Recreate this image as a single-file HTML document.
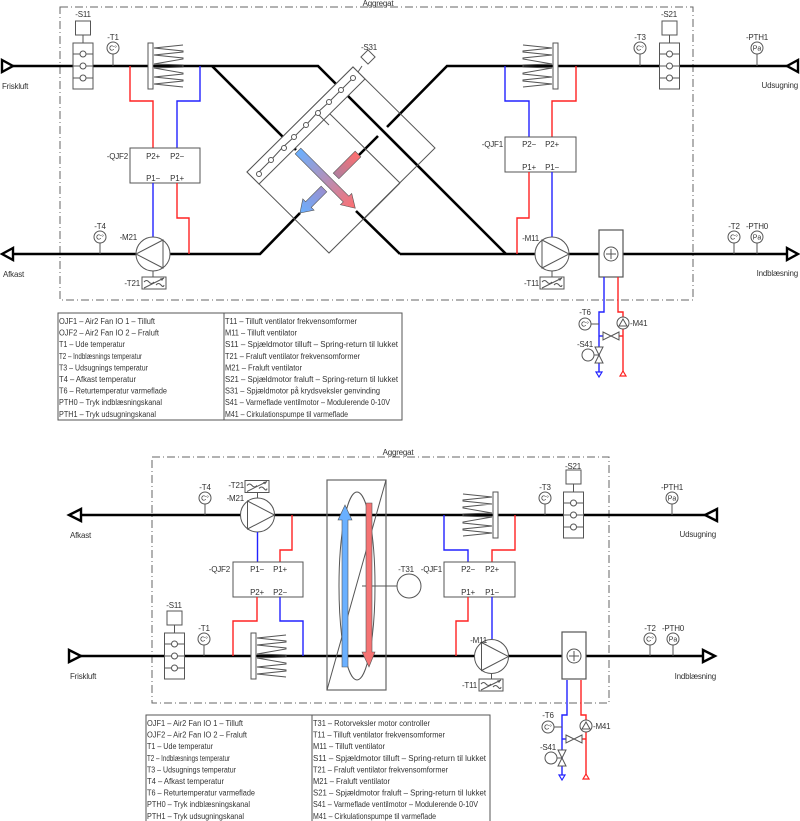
<!DOCTYPE html>
<html><head><meta charset="utf-8"><style>
html,body{margin:0;padding:0;background:#fff;}
svg{display:block;font-family:"Liberation Sans",sans-serif;}
.t{font-size:8px;fill:#333;letter-spacing:-0.2px;}
.lg{font-size:8px;fill:#333;}
.thin{stroke:#555;stroke-width:1;fill:none;}
.duct{stroke:#000;stroke-width:2.6;fill:none;}
.r{stroke:#f22;stroke-width:1.4;fill:none;}
.b{stroke:#22f;stroke-width:1.4;fill:none;}
.box{stroke:#555;stroke-width:1;fill:#fff;}
.dd{stroke:#666;stroke-width:1;fill:none;stroke-dasharray:8,3,1,3;}
</style></head><body>
<svg width="800" height="821" viewBox="0 0 800 821" xmlns="http://www.w3.org/2000/svg">
<defs>
<g id="ts"><circle r="6" class="box"/><text x="0" y="2.6" text-anchor="middle" style="font-size:7px;fill:#333">C°</text></g>
<g id="ps"><circle r="6" class="box"/><text x="0" y="2.6" text-anchor="middle" style="font-size:7px;fill:#333">Pa</text></g>
<g id="dmp">
<line x1="0" y1="-23" x2="0" y2="-31" class="thin"/>
<rect x="-7.5" y="-45" width="15" height="14" class="box"/>
<rect x="-10" y="-23" width="20" height="46" class="box"/>
<line x1="-10" y1="-12" x2="10" y2="-12" class="thin"/><line x1="-10" y1="0" x2="10" y2="0" class="thin"/><line x1="-10" y1="12" x2="10" y2="12" class="thin"/>
<circle cx="0" cy="-12" r="3" class="box"/><circle cx="0" cy="0" r="3" class="box"/><circle cx="0" cy="12" r="3" class="box"/>
</g>
<g id="comb">
<polyline class="thin" points="35,-21 6,-18 35,-15 35,-14 6,-11 35,-8 35,-7 6,-2 35,-1 35,1 6,2 35,7 35,8 6,11 35,14 35,15 6,18 35,21"/>
<rect x="0" y="-23" width="5" height="46" class="box"/>
</g>
<g id="fanR"><circle r="17" class="box"/><polygon points="-10,-14 -10,14 17,0" class="thin"/></g>
<g id="fc"><rect x="-12" y="-6" width="24" height="12" class="box"/>
<line x1="-10" y1="5" x2="10" y2="-5" class="thin"/><polygon points="10,-5 6,-4.5 8,-2" fill="#555"/>
<path d="M-10,-1 q2.5,-3 5,0 t5,0" class="thin"/><path d="M2,2 q2.5,-3 5,0 t3,0" class="thin"/></g>
<g id="heat"><rect x="-12" y="-24" width="24" height="47" class="box" style="stroke-width:1.2"/>
<circle r="7" class="thin"/><line x1="-5" y1="0" x2="5" y2="0" class="thin"/><line x1="0" y1="-5" x2="0" y2="5" class="thin"/></g>
<g id="water">
<path class="b" d="M-7,0 V35 H-12 V96"/>
<polygon points="-15,95 -9,95 -12,100" fill="#fff" stroke="#22f" stroke-width="1.2"/>
<path class="r" d="M7,0 V35 H12 V96"/>
<polygon points="9,99 15,99 12,94" fill="#fff" stroke="#f22" stroke-width="1.2"/>
<line x1="-20" y1="47" x2="-12" y2="47" class="thin"/>
<circle cx="-26" cy="47" r="6" class="box"/><text x="-26" y="49.6" text-anchor="middle" style="font-size:7px;fill:#333">C°</text>
<text x="-26" y="38" text-anchor="middle" class="t">-T6</text>
<circle cx="12" cy="46" r="6" class="box"/><polygon points="8,49 16,49 12,42" class="thin"/>
<text x="19" y="49" class="t">-M41</text>
<line x1="-12" y1="59" x2="-8" y2="59" class="b"/><line x1="8" y1="59" x2="12" y2="59" class="r"/>
<polygon points="-8,55 0,59 -8,63" class="box"/><polygon points="8,55 0,59 8,63" class="box"/>
<line x1="8" y1="55" x2="8" y2="63" class="thin"/>
<line x1="-17" y1="78" x2="-12" y2="78" class="thin"/>
<circle cx="-23" cy="78" r="6" class="box"/>
<polygon points="-16,70 -8,70 -12,78" class="box"/><polygon points="-16,86 -8,86 -12,78" class="box"/>
<text x="-26" y="70" text-anchor="middle" class="t">-S41</text>
</g>
<linearGradient id="g1" x1="0" x2="1" y1="0" y2="0"><stop offset="0" stop-color="#6ab0ff"/><stop offset="1" stop-color="#ff6f6f"/></linearGradient>
<linearGradient id="g2" x1="0" x2="1" y1="0" y2="0"><stop offset="0" stop-color="#ff6f6f"/><stop offset="1" stop-color="#b07f9f"/></linearGradient>
<linearGradient id="g3" x1="0" x2="1" y1="0" y2="0"><stop offset="0" stop-color="#9a8fcf"/><stop offset="1" stop-color="#6ab0ff"/></linearGradient>
</defs>

<!-- ================= TOP DIAGRAM ================= -->
<rect x="60" y="7" width="633" height="293" class="dd"/>
<text x="378" y="6" text-anchor="middle" class="t">Aggregat</text>

<polyline class="duct" points="13,66 318,66 506,254"/>
<line class="duct" x1="212" y1="66" x2="296" y2="150"/>
<line class="duct" x1="356" y1="211" x2="400" y2="254"/>
<line class="duct" x1="400" y1="254" x2="787" y2="254"/>
<polyline class="duct" points="787,66 447,66 387,127"/>
<line class="duct" x1="378" y1="136" x2="358" y2="156"/>
<polyline class="duct" points="300,213 260,254 13,254"/>
<polygon points="2,60 13,66 2,72" fill="#fff" stroke="#000" stroke-width="2.4"/>
<polygon points="13,248 2,254 13,260" fill="#fff" stroke="#000" stroke-width="2.4"/>
<polygon points="798,60 787,66 798,72" fill="#fff" stroke="#000" stroke-width="2.4"/>
<polygon points="787,248 798,254 787,260" fill="#fff" stroke="#000" stroke-width="2.4"/>
<text x="2" y="89" class="t">Friskluft</text>
<text x="3" y="277" class="t">Afkast</text>
<text x="798" y="88" text-anchor="end" class="t">Udsugning</text>
<text x="798" y="276" text-anchor="end" class="t">Indblæsning</text>

<polygon points="247,172 353,67 435,148 329,253" class="thin"/>
<line x1="328" y1="112" x2="400" y2="183" class="thin"/>
<line x1="400" y1="183" x2="365" y2="218" class="thin"/>
<polygon points="247,172 353,67 365,79 259,184" class="box"/>
<line x1="317" y1="113" x2="329" y2="125" class="thin"/>
<polyline class="thin" points="259,172 271,160 282,148 294,137 306,125 317,113 329,102 341,90 353,78"/>
<g fill="#fff" stroke="#555">
<circle cx="259" cy="174" r="2.5"/><circle cx="271" cy="160" r="2.5"/><circle cx="284" cy="148" r="2.5"/><circle cx="294" cy="137" r="2.5"/><circle cx="306" cy="125" r="2.5"/><circle cx="318" cy="113" r="2.5"/><circle cx="329" cy="102" r="2.5"/><circle cx="341" cy="90" r="2.5"/><circle cx="353" cy="78" r="2.5"/>
</g>
<line x1="362" y1="66" x2="358" y2="72" class="thin"/>
<rect x="363" y="52" width="10" height="10" class="box" transform="rotate(45 368 57)"/>
<text x="369" y="50" text-anchor="middle" class="t">-S31</text>
<g transform="translate(298,151) rotate(45)"><polygon points="0,-4 68,-4 68,-8 81,0 68,8 68,4 0,4" fill="url(#g1)" stroke="#555" stroke-width="0.6"/></g>
<g transform="translate(358,154) rotate(135)"><rect x="0" y="-4" width="31" height="8" fill="url(#g2)" stroke="#555" stroke-width="0.6"/></g>
<g transform="translate(324,189) rotate(135)"><polygon points="0,-4 22,-4 22,-8 34,0 22,8 22,4 0,4" fill="url(#g3)" stroke="#555" stroke-width="0.6"/></g>

<use href="#dmp" x="83" y="66"/>
<text x="83" y="17" text-anchor="middle" class="t">-S11</text>
<line x1="113" y1="54" x2="113" y2="66" class="thin"/><use href="#ts" x="113" y="48"/>
<text x="113" y="40" text-anchor="middle" class="t">-T1</text>
<use href="#comb" x="148" y="66"/>
<path class="r" d="M130,66 V101 H153 V148"/>
<path class="b" d="M200,66 V101 H177 V148"/>
<rect x="130" y="148" width="70" height="35" class="box"/>
<text x="128" y="159" text-anchor="end" class="t">-QJF2</text>
<text x="153" y="159" text-anchor="middle" class="t">P2+</text><text x="177" y="159" text-anchor="middle" class="t">P2−</text>
<text x="153" y="181" text-anchor="middle" class="t">P1−</text><text x="177" y="181" text-anchor="middle" class="t">P1+</text>
<path class="b" d="M153,183 V237"/>
<path class="r" d="M177,183 V218 H189 V254"/>
<g transform="translate(153,254) scale(-1,1)"><use href="#fanR"/></g>
<text x="137" y="240" text-anchor="end" class="t">-M21</text>
<line x1="153" y1="271" x2="153" y2="277" class="thin"/><use href="#fc" x="154" y="283"/>
<text x="140" y="286" text-anchor="end" class="t">-T21</text>
<line x1="100" y1="243" x2="100" y2="254" class="thin"/><use href="#ts" x="100" y="237"/>
<text x="100" y="229" text-anchor="middle" class="t">-T4</text>

<g transform="translate(558,66) scale(-1,1)"><use href="#comb"/></g>
<path class="b" d="M505,66 V101 H529 V137"/>
<path class="r" d="M576,66 V101 H552 V137"/>
<rect x="505" y="137" width="71" height="35" class="box"/>
<text x="503" y="147" text-anchor="end" class="t">-QJF1</text>
<text x="529" y="147" text-anchor="middle" class="t">P2−</text><text x="552" y="147" text-anchor="middle" class="t">P2+</text>
<text x="529" y="170" text-anchor="middle" class="t">P1+</text><text x="552" y="170" text-anchor="middle" class="t">P1−</text>
<path class="r" d="M529,172 V218 H517 V254"/>
<path class="b" d="M552,172 V237"/>
<use href="#fanR" x="552" y="254"/>
<text x="539" y="241" text-anchor="end" class="t">-M11</text>
<line x1="552" y1="271" x2="552" y2="277" class="thin"/><use href="#fc" x="552" y="283"/>
<text x="539" y="286" text-anchor="end" class="t">-T11</text>
<use href="#heat" x="611" y="254"/>
<use href="#water" x="611" y="277"/>
<line x1="640" y1="54" x2="640" y2="66" class="thin"/><use href="#ts" x="640" y="48"/>
<text x="640" y="40" text-anchor="middle" class="t">-T3</text>
<use href="#dmp" x="669.5" y="66"/>
<text x="669" y="17" text-anchor="middle" class="t">-S21</text>
<line x1="757" y1="54" x2="757" y2="66" class="thin"/><use href="#ps" x="757" y="48"/>
<text x="757" y="40" text-anchor="middle" class="t">-PTH1</text>
<line x1="734" y1="243" x2="734" y2="254" class="thin"/><use href="#ts" x="734" y="237"/>
<text x="734" y="229" text-anchor="middle" class="t">-T2</text>
<line x1="757" y1="243" x2="757" y2="254" class="thin"/><use href="#ps" x="757" y="237"/>
<text x="757" y="229" text-anchor="middle" class="t">-PTH0</text>

<rect x="58" y="313" width="344" height="107" class="thin"/>
<line x1="224" y1="313" x2="224" y2="420" class="thin"/>
<g class="lg">
<text x="59" y="324" textLength="96" lengthAdjust="spacingAndGlyphs">OJF1 – Air2 Fan IO 1 – Tilluft</text>
<text x="59" y="335.6" textLength="100" lengthAdjust="spacingAndGlyphs">OJF2 – Air2 Fan IO 2 – Fraluft</text>
<text x="59" y="347.2" textLength="66" lengthAdjust="spacingAndGlyphs">T1 – Ude temperatur</text>
<text x="59" y="358.8" textLength="83" lengthAdjust="spacingAndGlyphs">T2 – Indblæsnings temperatur</text>
<text x="59" y="370.4" textLength="89" lengthAdjust="spacingAndGlyphs">T3 – Udsugnings temperatur</text>
<text x="59" y="382" textLength="77" lengthAdjust="spacingAndGlyphs">T4 – Afkast temperatur</text>
<text x="59" y="393.6" textLength="108" lengthAdjust="spacingAndGlyphs">T6 – Returtemperatur varmeflade</text>
<text x="59" y="405.2" textLength="103" lengthAdjust="spacingAndGlyphs">PTH0 – Tryk indblæsningskanal</text>
<text x="59" y="416.8" textLength="97" lengthAdjust="spacingAndGlyphs">PTH1 – Tryk udsugningskanal</text>
<text x="225" y="324" textLength="132" lengthAdjust="spacingAndGlyphs">T11 – Tilluft ventilator frekvensomformer</text>
<text x="225" y="335.6" textLength="72" lengthAdjust="spacingAndGlyphs">M11 – Tilluft ventilator</text>
<text x="225" y="347.2" textLength="173" lengthAdjust="spacingAndGlyphs">S11 – Spjældmotor tilluft – Spring-return til lukket</text>
<text x="225" y="358.8" textLength="135" lengthAdjust="spacingAndGlyphs">T21 – Fraluft ventilator frekvensomformer</text>
<text x="225" y="370.4" textLength="77" lengthAdjust="spacingAndGlyphs">M21 – Fraluft ventilator</text>
<text x="225" y="382" textLength="173" lengthAdjust="spacingAndGlyphs">S21 – Spjældmotor fraluft – Spring-return til lukket</text>
<text x="225" y="393.6" textLength="155" lengthAdjust="spacingAndGlyphs">S31 – Spjældmotor på krydsveksler genvinding</text>
<text x="225" y="405.2" textLength="165" lengthAdjust="spacingAndGlyphs">S41 – Varmeflade ventilmotor – Modulerende 0-10V</text>
<text x="225" y="416.8" textLength="123" lengthAdjust="spacingAndGlyphs">M41 – Cirkulationspumpe til varmeflade</text>
</g>

<!-- ================= BOTTOM DIAGRAM ================= -->
<rect x="152" y="457" width="457" height="246" class="dd"/>
<text x="398" y="455" text-anchor="middle" class="t">Aggregat</text>

<line class="duct" x1="81" y1="515" x2="705" y2="515"/>
<line class="duct" x1="81" y1="656" x2="703" y2="656"/>
<polygon points="81,509 69,515 81,521" fill="#fff" stroke="#000" stroke-width="2.4"/>
<polygon points="69,650 81,656 69,662" fill="#fff" stroke="#000" stroke-width="2.4"/>
<polygon points="717,509 705,515 717,521" fill="#fff" stroke="#000" stroke-width="2.4"/>
<polygon points="703,650 715,656 703,662" fill="#fff" stroke="#000" stroke-width="2.4"/>
<text x="70" y="538" class="t">Afkast</text>
<text x="70" y="679" class="t">Friskluft</text>
<text x="716" y="537" text-anchor="end" class="t">Udsugning</text>
<text x="716" y="679" text-anchor="end" class="t">Indblæsning</text>

<rect x="327" y="480" width="59" height="210" fill="none" stroke="#666" stroke-width="1.2"/>
<line x1="386" y1="480" x2="327" y2="690" class="thin"/>
<ellipse cx="357" cy="586" rx="18" ry="94" class="thin"/>
<line x1="362" y1="586" x2="397" y2="586" class="thin"/>
<circle cx="409" cy="586" r="12" class="box"/>
<text x="406" y="572" text-anchor="middle" class="t">-T31</text>
<polygon points="342,667 342,520 338,520 345,505 352,520 348,520 348,667" fill="#6ab0ff" stroke="#555" stroke-width="0.6"/>
<polygon points="366,503 372,503 372,652 375,652 369,667 362,652 366,652" fill="#f57373" stroke="#555" stroke-width="0.6"/>

<line x1="205" y1="504" x2="205" y2="515" class="thin"/><use href="#ts" x="205" y="498"/>
<text x="205" y="490" text-anchor="middle" class="t">-T4</text>
<use href="#fanR" x="257.5" y="515"/>
<text x="244" y="501" text-anchor="end" class="t">-M21</text>
<line x1="257.5" y1="492" x2="257.5" y2="498" class="thin"/><use href="#fc" x="257" y="486.5"/>
<text x="244" y="488" text-anchor="end" class="t">-T21</text>
<path class="b" d="M257.5,532 V562"/>
<path class="r" d="M292,515 V550 H280 V562"/>
<rect x="233" y="562" width="70" height="35" class="box"/>
<text x="230" y="572" text-anchor="end" class="t">-QJF2</text>
<text x="257" y="572" text-anchor="middle" class="t">P1−</text><text x="280" y="572" text-anchor="middle" class="t">P1+</text>
<text x="257" y="595" text-anchor="middle" class="t">P2+</text><text x="280" y="595" text-anchor="middle" class="t">P2−</text>
<path class="r" d="M257,597 V621 H233 V656"/>
<path class="b" d="M280,597 V621 H303 V656"/>
<use href="#comb" x="251" y="656"/>
<use href="#dmp" x="174.5" y="656"/>
<text x="174" y="608" text-anchor="middle" class="t">-S11</text>
<line x1="204" y1="645" x2="204" y2="656" class="thin"/><use href="#ts" x="204" y="639"/>
<text x="204" y="631" text-anchor="middle" class="t">-T1</text>

<g transform="translate(498,515) scale(-1,1)"><use href="#comb"/></g>
<path class="b" d="M444,515 V550 H468 V562"/>
<path class="r" d="M515,515 V550 H492 V562"/>
<rect x="444" y="562" width="71" height="35" class="box"/>
<text x="442" y="572" text-anchor="end" class="t">-QJF1</text>
<text x="468" y="572" text-anchor="middle" class="t">P2−</text><text x="492" y="572" text-anchor="middle" class="t">P2+</text>
<text x="468" y="595" text-anchor="middle" class="t">P1+</text><text x="492" y="595" text-anchor="middle" class="t">P1−</text>
<path class="r" d="M468,597 V621 H456 V656"/>
<path class="b" d="M492,597 V639"/>
<use href="#fanR" x="491.5" y="656.5"/>
<text x="487" y="643" text-anchor="end" class="t">-M11</text>
<line x1="491.5" y1="673" x2="491.5" y2="679" class="thin"/><use href="#fc" x="491" y="685"/>
<text x="477" y="688" text-anchor="end" class="t">-T11</text>
<use href="#heat" x="574" y="656"/>
<use href="#water" x="574" y="680"/>
<line x1="545" y1="504" x2="545" y2="515" class="thin"/><use href="#ts" x="545" y="498"/>
<text x="545" y="490" text-anchor="middle" class="t">-T3</text>
<use href="#dmp" x="573.5" y="515"/>
<text x="573" y="469" text-anchor="middle" class="t">-S21</text>
<line x1="672" y1="504" x2="672" y2="515" class="thin"/><use href="#ps" x="672" y="498"/>
<text x="672" y="490" text-anchor="middle" class="t">-PTH1</text>
<line x1="650" y1="645" x2="650" y2="656" class="thin"/><use href="#ts" x="650" y="639"/>
<text x="650" y="631" text-anchor="middle" class="t">-T2</text>
<line x1="673" y1="645" x2="673" y2="656" class="thin"/><use href="#ps" x="673" y="639"/>
<text x="673" y="631" text-anchor="middle" class="t">-PTH0</text>

<rect x="146" y="715" width="344" height="110" class="thin"/>
<line x1="312" y1="715" x2="312" y2="821" class="thin"/>
<g class="lg">
<text x="147" y="726" textLength="96" lengthAdjust="spacingAndGlyphs">OJF1 – Air2 Fan IO 1 – Tilluft</text>
<text x="147" y="737.6" textLength="100" lengthAdjust="spacingAndGlyphs">OJF2 – Air2 Fan IO 2 – Fraluft</text>
<text x="147" y="749.2" textLength="66" lengthAdjust="spacingAndGlyphs">T1 – Ude temperatur</text>
<text x="147" y="760.8" textLength="83" lengthAdjust="spacingAndGlyphs">T2 – Indblæsnings temperatur</text>
<text x="147" y="772.4" textLength="89" lengthAdjust="spacingAndGlyphs">T3 – Udsugnings temperatur</text>
<text x="147" y="784" textLength="77" lengthAdjust="spacingAndGlyphs">T4 – Afkast temperatur</text>
<text x="147" y="795.6" textLength="108" lengthAdjust="spacingAndGlyphs">T6 – Returtemperatur varmeflade</text>
<text x="147" y="807.2" textLength="103" lengthAdjust="spacingAndGlyphs">PTH0 – Tryk indblæsningskanal</text>
<text x="147" y="818.8" textLength="97" lengthAdjust="spacingAndGlyphs">PTH1 – Tryk udsugningskanal</text>
<text x="313" y="726" textLength="117" lengthAdjust="spacingAndGlyphs">T31 – Rotorveksler motor controller</text>
<text x="313" y="737.6" textLength="132" lengthAdjust="spacingAndGlyphs">T11 – Tilluft ventilator frekvensomformer</text>
<text x="313" y="749.2" textLength="72" lengthAdjust="spacingAndGlyphs">M11 – Tilluft ventilator</text>
<text x="313" y="760.8" textLength="173" lengthAdjust="spacingAndGlyphs">S11 – Spjældmotor tilluft – Spring-return til lukket</text>
<text x="313" y="772.4" textLength="135" lengthAdjust="spacingAndGlyphs">T21 – Fraluft ventilator frekvensomformer</text>
<text x="313" y="784" textLength="77" lengthAdjust="spacingAndGlyphs">M21 – Fraluft ventilator</text>
<text x="313" y="795.6" textLength="173" lengthAdjust="spacingAndGlyphs">S21 – Spjældmotor fraluft – Spring-return til lukket</text>
<text x="313" y="807.2" textLength="165" lengthAdjust="spacingAndGlyphs">S41 – Varmeflade ventilmotor – Modulerende 0-10V</text>
<text x="313" y="818.8" textLength="123" lengthAdjust="spacingAndGlyphs">M41 – Cirkulationspumpe til varmeflade</text>
</g>
</svg>
</body></html>
